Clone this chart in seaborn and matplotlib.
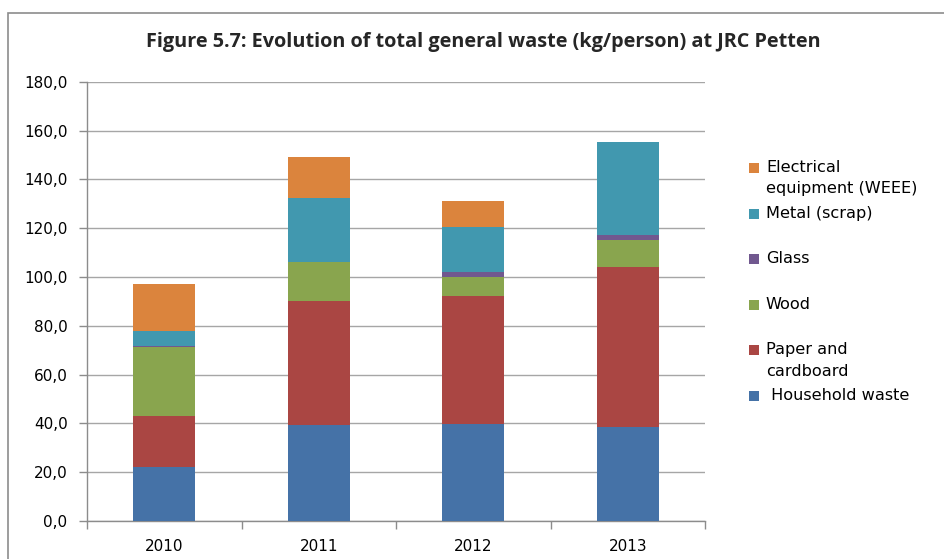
import matplotlib
matplotlib.use("Agg")
import matplotlib.pyplot as plt
from matplotlib import font_manager
from matplotlib.patches import Rectangle, Patch
from matplotlib.ticker import FixedLocator, FuncFormatter
import seaborn as sns
import pandas as pd
import numpy as np

years = ["2010", "2011", "2012", "2013"]
household = [22.0, 39.4, 39.8, 38.7]
paper = [21.0, 50.8, 52.6, 65.3]
wood = [28.2, 16.1, 7.5, 11.2]
glass = [0.7, 0.0, 2.3, 1.8]
metal = [5.8, 26.0, 18.1, 38.4]
weee = [19.6, 16.8, 10.9, 0.0]

series_names = ["Household waste", "Paper and cardboard", "Wood", "Glass",
                "Metal (scrap)", "Electrical equipment (WEEE)"]
legend_labels = [" Household waste", "Paper and\ncardboard", "Wood", "Glass",
                 "Metal (scrap)", "Electrical\nequipment (WEEE)"]
colors = ["#4572A7", "#AA4643", "#89A54E", "#71588F", "#4198AF", "#DB843D"]
series = [household, paper, wood, glass, metal, weee]

sns.set_theme(style="white")
plt.rcParams["font.family"] = ["DejaVu Sans"]

fig = plt.figure(figsize=(9.44, 5.59), dpi=100)
ax = fig.add_axes([0.0922, 0.068, 0.6547, 0.7858])

# cumulative stacks, drawn from top layer downward
cum = np.cumsum(np.array(series), axis=0)
df = pd.DataFrame({"year": years})
for i in range(len(series) - 1, -1, -1):
    df["val"] = cum[i]
    sns.barplot(data=df, x="year", y="val", order=years, color=colors[i],
                width=0.4, linewidth=0, saturation=1, ax=ax, zorder=3)

ax.set_xlim(-0.5, 3.5)
ax.set_ylim(0, 180)
ax.yaxis.set_major_locator(FixedLocator(np.arange(0, 181, 20)))
ax.yaxis.set_major_formatter(FuncFormatter(lambda v, p: f"{v:.1f}".replace(".", ",")))
ax.grid(axis="y", color="#a6a6a6", linewidth=1.0, zorder=0)
ax.set_axisbelow(True)
ax.set_xlabel("")
ax.set_ylabel("")
for side in ["top", "right"]:
    ax.spines[side].set_visible(False)
for side in ["left", "bottom"]:
    ax.spines[side].set_color("#8c8c8c")
    ax.spines[side].set_linewidth(1.0)

ax.tick_params(axis="y", direction="out", length=6, width=1, color="#8c8c8c",
               labelsize=11, labelcolor="#000000", pad=8, left=True)
ax.tick_params(axis="x", which="major", length=0, labelsize=11, labelcolor="#000000", pad=13)
ax.set_xticks(np.arange(-0.5, 3.6, 1.0), minor=True)
ax.tick_params(axis="x", which="minor", direction="out", length=6, width=1,
               color="#8c8c8c", bottom=True)

# legend: equal slots, first text line aligned with the swatch
handles = [Patch(facecolor=colors[i], edgecolor="none") for i in range(len(series))][::-1]
labels = []
for lab in legend_labels[::-1]:
    if "\n" in lab:
        labels.append("\n" + lab)
    else:
        labels.append("\n" + lab + "\n")
leg = fig.legend(handles, labels, loc="upper left", bbox_to_anchor=(0.7934, 1 - 139 / 559),
                 frameon=False, fontsize=11.6, handlelength=0.6, handleheight=0.6,
                 handletextpad=0.45, labelspacing=-0.74, borderaxespad=0, borderpad=0)
for t in leg.get_texts():
    t.set_linespacing(1.52)
    t.set_color("#000000")

fig.text(0.5115, 0.925, "Figure 5.7: Evolution of total general waste (kg/person) at JRC Petten",
         ha="center", va="center", fontsize=14.3, fontweight="bold", family=["Open Sans", "DejaVu Sans"])

fig.patches.append(Rectangle((8 / 944, -0.1), 1.2, (559 - 13) / 559 + 0.1,
                             transform=fig.transFigure, fill=False,
                             edgecolor="#8c8c8c", linewidth=1.2))

fig.savefig("out.png", dpi=100)
